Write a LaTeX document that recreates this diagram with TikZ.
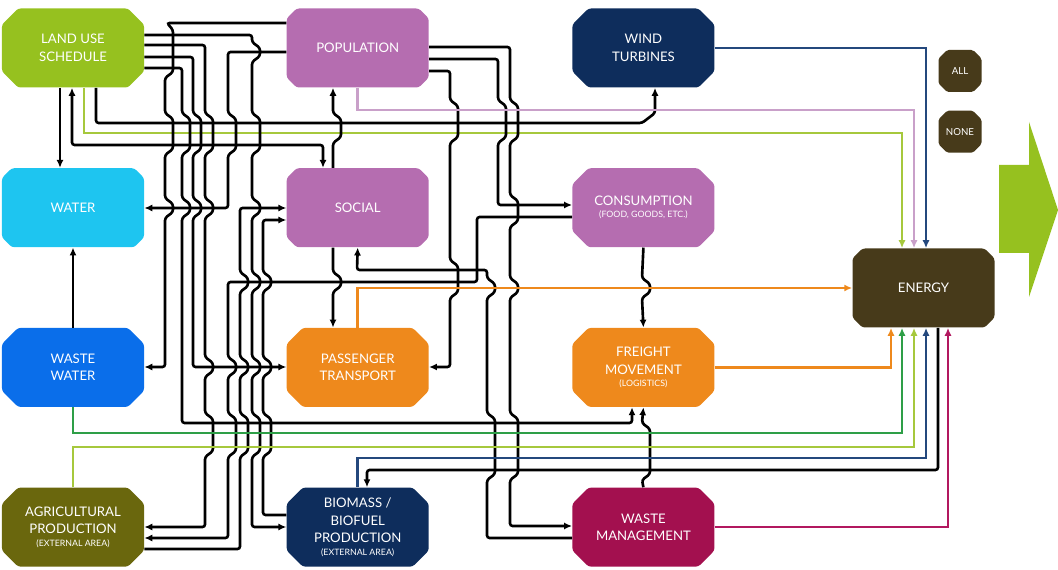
\documentclass[tikz,border=0pt]{standalone}
\usepackage{fontspec}
\setsansfont{Lato}
\usetikzlibrary{arrows.meta}
\usetikzlibrary{positioning}
\usetikzlibrary{shapes.misc}

\definecolor{landgreen}{HTML}{96C11F}
\definecolor{popviolet}{HTML}{B56DB0}
\definecolor{darknavy}{HTML}{0E2D5C}
\definecolor{watercyan}{HTML}{1EC5F0}
\definecolor{wwblue}{HTML}{0A6EEA}
\definecolor{transorange}{HTML}{EE891C}
\definecolor{agriolive}{HTML}{6A670D}
\definecolor{wastered}{HTML}{A3104F}
\definecolor{energybrown}{HTML}{473A1A}
\definecolor{pinkwire}{HTML}{C9A0C9}
\definecolor{limewire}{HTML}{A6C83C}
\definecolor{navywire}{HTML}{24487D}
\definecolor{greenwire}{HTML}{2E9F47}
\definecolor{redwire}{HTML}{B2185F}

% small sideways jog of a vertical wire where it crosses horizontal ones
\newcommand{\linehop}[3]{-- (#1,#2-10) -- (#1+8,#2-4) -- (#1+8,#3+4) -- (#1,#3+10)}

\begin{document}
\begin{tikzpicture}[x=0.2mm,y=-0.2mm,>={Latex[length=4.5pt,width=4pt]},
		main node/.style={chamfered rectangle,chamfered rectangle xsep=2.2mm,
			rounded corners=1.5pt,text=white,align=center,inner sep=0pt,
			minimum width=28.4mm,minimum height=15.8mm,
			font=\sffamily\fontsize{7.5}{10}\selectfont},
		small node/.style={chamfered rectangle,chamfered rectangle xsep=2.4mm,
			rounded corners=1pt,fill=energybrown,text=white,inner sep=0pt,
			minimum width=8.6mm,minimum height=8.4mm,
			font=\sffamily\fontsize{5.5}{6}\selectfont},
		black line/.style={line width=1.5pt,black,rounded corners=1.5pt},
		color line/.style={line width=1.5pt}]
	\useasboundingbox (0,0) rectangle (1058,570);
	
	\node[main node,fill=landgreen] (lus) at (73,48) {LAND USE\\SCHEDULE};
	\node[main node,fill=popviolet] (pop) [right=28.4mm of lus] {POPULATION};
	\node[main node,fill=darknavy] (wind) [right=28.6mm of pop] {WIND\\TURBINES};
	\node[main node,fill=watercyan] (water) [below=16mm of lus] {WATER};
	\node[main node,fill=popviolet] (social) [below=16mm of pop] {SOCIAL};
	\node[main node,fill=popviolet] (cons) [below=16mm of wind]
		{CONSUMPTION\\[-3pt]{\fontsize{5}{6}\selectfont (FOOD, GOODS, ETC.)}};
	\node[main node,fill=wwblue] (ww) [below=16mm of water] {WASTE\\WATER};
	\node[main node,fill=transorange] (pass) [below=16mm of social] {PASSENGER\\TRANSPORT};
	\node[main node,fill=transorange] (freight) [below=16mm of cons]
		{FREIGHT\\MOVEMENT\\[-3pt]{\fontsize{5}{6}\selectfont (LOGISTICS)}};
	\node[main node,fill=agriolive] (agri) [below=16mm of ww]
		{AGRICULTURAL\\PRODUCTION\\[-3pt]{\fontsize{5}{6}\selectfont (EXTERNAL AREA)}};
	\node[main node,fill=darknavy] (bio) [below=16mm of pass]
		{BIOMASS /\\BIOFUEL\\PRODUCTION\\[-3pt]{\fontsize{5}{6}\selectfont (EXTERNAL AREA)}};
	\node[main node,fill=wastered] (waste) [below=16mm of freight] {WASTE\\MANAGEMENT};
	\node[main node,fill=energybrown] (energy) at (923.5,288) {ENERGY};
	\node[small node] (all) at (960,71) {ALL};
	\node[small node] (none) [below=3.6mm of all] {NONE};
	\fill[landgreen] (999,165) -- (1029,165) -- (1029,122) -- (1058,210)
		-- (1029,297) -- (1029,253) -- (999,253) -- cycle;
	
	% land use schedule
	\draw[black line,->] (lus.south -| 60,0) -- (water.north -| 60,0);
	\draw[black line,<->] (lus.south -| 72,0) |- (323,145) -- (social.north -| 323,0);
	\draw[color line,limewire,->] (lus.south -| 84,0) |- (902,133) -- (energy.north -| 902,0);
	\draw[black line,->] (lus.south -| 96,0) |- (642,123) -- (655,113) -- (wind.south -| 655,0);
	\draw[black line,->] (lus.east |- 0,35) -- (252,35) \linehop{252}{52}{52} \linehop{252}{123}{145}
		\linehop{252}{208}{208} \linehop{252}{282}{282} \linehop{252}{367}{367}
		\linehop{252}{423}{447} -- (252,527) -- (bio.west |- 0,527);
	\draw[black line,->] (lus.east |- 0,45) -- (205,45) \linehop{205}{123}{145} \linehop{205}{208}{208}
		\linehop{205}{367}{367} \linehop{205}{423}{447} -- (205,527) -- (agri.east |- 0,527);
	\draw[black line,->] (lus.east |- 0,57) -- (193,57) \linehop{193}{123}{145} \linehop{193}{208}{208}
		-- (193,367) -- (pass.west |- 0,367);
	\draw[black line,->] (lus.east |- 0,68) -- (182,68) \linehop{182}{123}{145} \linehop{182}{208}{208}
		-- (182,423) -- (632,423) -- (freight.south -| 632,0);
	
	% population
	\draw[black line,->] (pop.west |- 0,23) -- (167,23) -- (173,30) -- (173,72) -- (165,78)
		\linehop{165}{123}{145} \linehop{165}{208}{208} -- (165,367) -- (ww.east |- 0,367);
	\draw[black line,->] (pop.west |- 0,52) -- (228,52) \linehop{228}{123}{145} -- (228,208)
		-- (water.east |- 0,208);
	\draw[black line,->] (pop.east |- 0,47) -- (510,47) \linehop{510}{110}{133} \linehop{510}{205}{217}
		\linehop{510}{288}{288} \linehop{510}{423}{470} -- (510,526) -- (waste.west |- 0,526);
	\draw[black line,->] (pop.east |- 0,59) -- (498,59) \linehop{498}{110}{133} -- (498,205)
		-- (cons.west |- 0,205);
	\draw[black line,->] (pop.east |- 0,71) -- (450,71) \linehop{450}{110}{133} \linehop{450}{270}{288}
		-- (450,367) -- (pass.east |- 0,367);
	\draw[color line,pinkwire,->] (pop.south) |- (914,110) -- (energy.north -| 914,0);
	
	% social
	\draw[black line,<-] (pop.south -| 333,0) \linehop{333}{123}{133} -- (social.north -| 333,0);
	\draw[black line,->] (social.south -| 333,0) \linehop{333}{282}{282} -- (pass.north -| 333,0);
	\draw[black line,<-] (social.west |- 0,208) -- (240,208) \linehop{240}{282}{282} \linehop{240}{367}{367}
		\linehop{240}{423}{447} -- (240,549) -- (agri.east |- 0,549);
	\draw[black line,<-] (social.west |- 0,220) -- (263,220) \linehop{263}{282}{282} \linehop{263}{367}{367}
		\linehop{263}{423}{447} -- (263,515) -- (bio.west |- 0,515);
	\draw[black line,<-] (social.south) -- (357,270) -- (487,270) \linehop{487}{288}{288}
		\linehop{487}{423}{470} -- (487,538) -- (waste.west |- 0,538);
	
	% consumption and freight
	\draw[black line,->] (cons.west |- 0,217) -- (477,217) -- (477,282) -- (228,282) \linehop{228}{367}{367}
		\linehop{228}{423}{447} -- (228,538) -- (agri.east |- 0,538);
	\draw[black line,->] (cons.south) \linehop{642}{288}{288} -- (freight.north);
	\draw[black line,<-] (freight.south) \linehop{642}{433}{470} -- (waste.north);
	
	% energy
	\draw[color line,navywire,->] (wind.east) -| (energy.north -| 926,0);
	\draw[color line,transorange,->] (pass.north) |- (energy.west);
	\draw[color line,transorange,->] (freight.east) -| (energy.south -| 891,0);
	\draw[color line,greenwire,->] (ww.south) |- (902,433) -- (energy.south -| 902,0);
	\draw[color line,limewire,->] (agri.north) |- (914,447) -- (energy.south -| 914,0);
	\draw[color line,navywire,->] (bio.north) |- (926,458) -- (energy.south -| 926,0);
	\draw[black line,->] (energy.south -| 938,0) |- (367,470) -- (bio.north -| 367,0);
	\draw[color line,redwire,->] (waste.east) -| (energy.south -| 948,0);
	\draw[black line,->] (ww.north) -- (water.south);
\end{tikzpicture}
\end{document}
